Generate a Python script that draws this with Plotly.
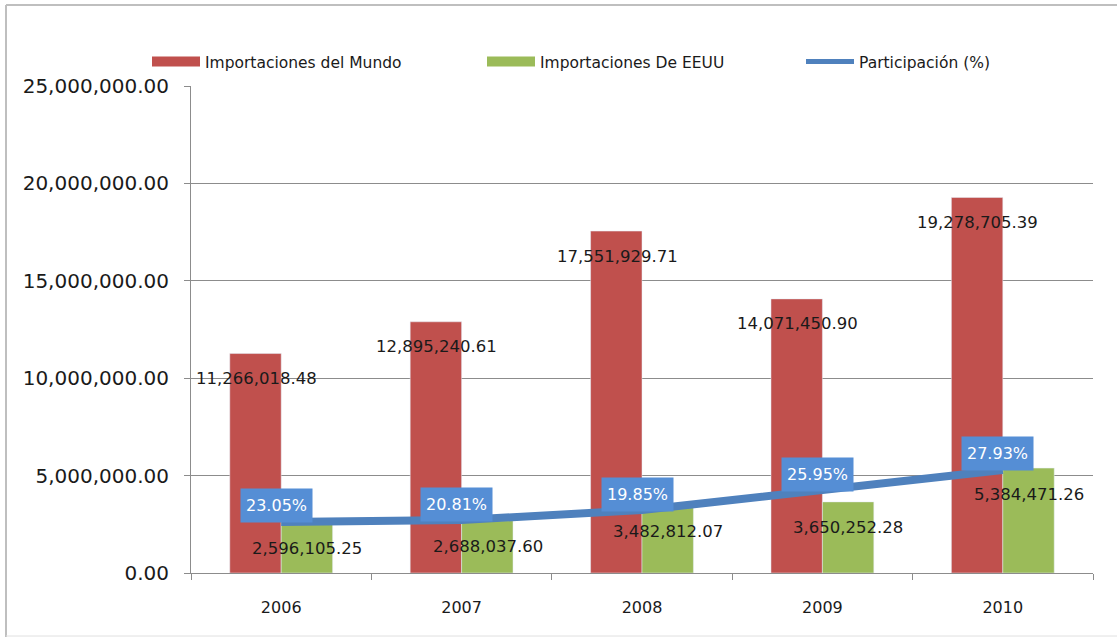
import plotly.graph_objects as go

# ---- data ----
years = ["2006", "2007", "2008", "2009", "2010"]
mundo = [11266018.48, 12895240.61, 17551929.71, 14071450.90, 19278705.39]
eeuu = [2596105.25, 2688037.60, 3482812.07, 3650252.28, 5384471.26]
participacion = [23.05, 20.81, 19.85, 25.95, 27.93]
# vertical position at which the participación line is drawn
linea_pos = [2620000, 2720000, 3230000, 4260000, 5290000]
y_ticks = [0, 5000000, 10000000, 15000000, 20000000, 25000000]
series_names = ["Importaciones del Mundo", "Importaciones De EEUU", "Participación (%)"]

RED = "#C0504D"
GREEN = "#9BBB59"
BLUE = "#4F81BD"
BOX = "#558ED5"
GRID = "#8C8C8C"

W, H = 1117, 637
L, R, T, B = 191, 24, 86, 64
pw, ph = W - L - R, H - T - B


def px2x(p):
    return (p - L) / pw


def py2y(p):
    return 1 - (p - T) / ph


fig = go.Figure()
fig.add_trace(go.Bar(x=years, y=mundo, marker_color=RED, name=series_names[0],
                     showlegend=False, hoverinfo="y"))
fig.add_trace(go.Bar(x=years, y=eeuu, marker_color=GREEN, name=series_names[1],
                     showlegend=False, hoverinfo="y"))
fig.add_trace(go.Scatter(x=years, y=linea_pos, mode="lines", name=series_names[2],
                         line=dict(color=BLUE, width=8), showlegend=False,
                         text=[f"{p:.2f}%" for p in participacion], hoverinfo="text"))

# legend proxies, each in its own legend box
legend_ids = ["legend", "legend2", "legend3"]
legend_px = [147, 482, 801]
for name, col, lid, w in zip(series_names, [RED, GREEN, BLUE], legend_ids, [10, 10, 5]):
    fig.add_trace(go.Scatter(x=[years[0]], y=[None], mode="lines", name=name, legend=lid,
                             line=dict(color=col, width=w), hoverinfo="skip"))

ann = []
lab_font = dict(family="DejaVu Sans", size=16.5, color="#1a1a1a")
for i, yr in enumerate(years):
    ann.append(dict(x=i, y=mundo[i], xref="x", yref="y", text=f"{mundo[i]:,.2f}",
                    showarrow=False, xshift=-25, yshift=-25, font=lab_font))
    ann.append(dict(x=i, y=eeuu[i], xref="x", yref="y", text=f"{eeuu[i]:,.2f}",
                    showarrow=False, xshift=26, yshift=-26, font=lab_font))
    ann.append(dict(x=i, y=linea_pos[i], xref="x", yref="y", text=f"{participacion[i]:.2f}%",
                    showarrow=False, xshift=-5, yshift=16, bgcolor=BOX, borderpad=5, height=23,
                    valign="middle",
                    font=dict(family="DejaVu Sans", size=16, color="white")))

shapes = [
    dict(type="line", xref="paper", yref="paper", x0=px2x(6), x1=px2x(1117), y0=py2y(5), y1=py2y(5),
         line=dict(color="#BFBFBF", width=2)),
    dict(type="line", xref="paper", yref="paper", x0=px2x(6), x1=px2x(6), y0=py2y(5), y1=py2y(637),
         line=dict(color="#BFBFBF", width=2)),
    dict(type="line", xref="paper", yref="paper", x0=px2x(6), x1=px2x(1117), y0=py2y(636), y1=py2y(636),
         line=dict(color="#E0E0E0", width=1)),
]

leg_common = dict(orientation="h", xanchor="left", yanchor="middle", xref="container",
                  yref="container", y=1 - 62 / H,
                  font=dict(family="DejaVu Sans", size=15.5, color="#1a1a1a"),
                  itemwidth=48, bgcolor="rgba(0,0,0,0)")

fig.update_layout(
    width=W, height=H,
    margin=dict(l=L, r=R, t=T, b=B, autoexpand=False),
    paper_bgcolor="white", plot_bgcolor="white",
    barmode="group", bargap=0.43, bargroupgap=0,
    font=dict(family="DejaVu Sans", color="#1a1a1a"),
    legend=dict(x=legend_px[0] / W, **leg_common),
    legend2=dict(x=legend_px[1] / W, **leg_common),
    legend3=dict(x=legend_px[2] / W, **leg_common),
    xaxis=dict(type="category", categoryorder="array", categoryarray=years, range=[-0.5, 4.5],
               showgrid=False, showline=True, linecolor=GRID, linewidth=1, automargin=False,
               ticks="outside", tickson="boundaries", ticklen=6, tickcolor=GRID,
               ticklabelstandoff=20,
               tickfont=dict(family="DejaVu Sans", size=16, color="#1a1a1a"), fixedrange=True),
    yaxis=dict(range=[0, 25000000], tickvals=y_ticks, tickformat=",.2f", showgrid=True,
               gridcolor=GRID, gridwidth=1, showline=True, linecolor=GRID, linewidth=1,
               ticks="outside", ticklen=6, tickcolor=GRID, zeroline=False, ticklabelstandoff=11,
               automargin=False,
               tickfont=dict(family="DejaVu Sans", size=20, color="#1a1a1a"), fixedrange=True),
    annotations=ann,
    shapes=shapes,
)

fig.write_html("out.html", config={"displayModeBar": False},
               post_script="document.body.style.margin='0';")
